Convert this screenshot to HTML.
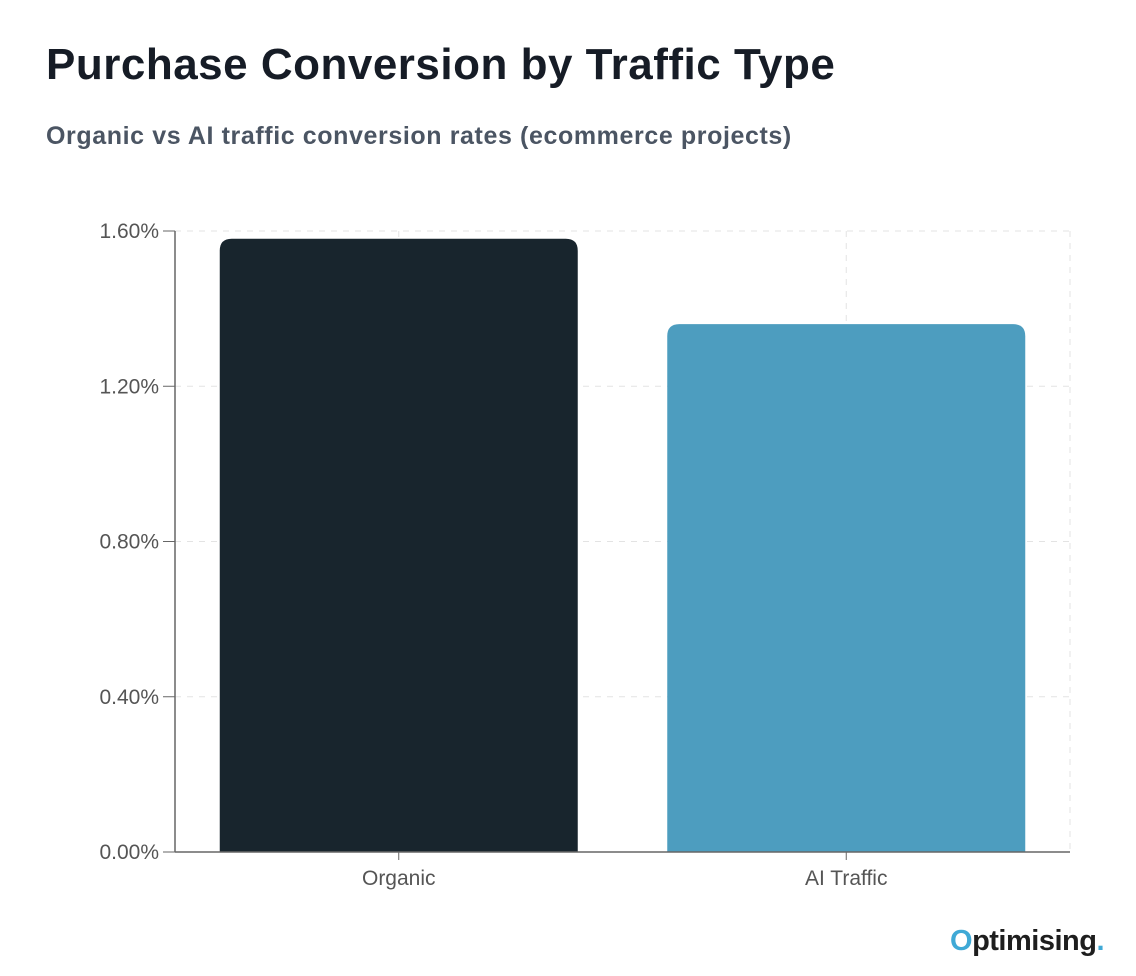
<!DOCTYPE html>
<html><head><meta charset="utf-8"><style>
body{margin:0;background:#fff;width:1136px;height:976px;overflow:hidden;font-family:"Liberation Sans",sans-serif}
h1{position:absolute;left:46px;top:40px;margin:0;font-size:44px;font-weight:bold;color:#161c26;letter-spacing:0.5px}
h2{position:absolute;left:46px;top:122px;margin:0;font-size:25px;font-weight:bold;color:#4b5563;letter-spacing:0.6px}
svg{position:absolute;left:0;top:0}
</style></head><body>
<h1>Purchase Conversion by Traffic Type</h1>
<h2>Organic vs AI traffic conversion rates (ecommerce projects)</h2>
<svg id="c" width="1136" height="976"></svg>
<div style="position:absolute;left:950px;top:925px;font-size:29px;font-weight:bold;color:#1e1e1e;letter-spacing:-0.5px"><span style="color:#3fa9d6">O</span>ptimising<span style="color:#3fa9d6">.</span></div>
<script>
const categories=["Organic","AI Traffic"];
const values=[1.58,1.36];
const tickValues=[0,0.4,0.8,1.2,1.6];
const tickLabels=["0.00%","0.40%","0.80%","1.20%","1.60%"];
const colors=["#18252d","#4d9dbf"];
const NS="http://www.w3.org/2000/svg";
const svg=document.getElementById('c');
const x0=175,x1=1070,y0=852,y1=231,maxV=1.6;
const y=v=>y0-(v/maxV)*(y0-y1);
const band=(x1-x0)/categories.length;
const xc=i=>x0+band*(i+0.5);
function mk(t,a){const e=document.createElementNS(NS,t);for(const k in a)e.setAttribute(k,a[k]);svg.appendChild(e);return e;}
tickValues.forEach((v,i)=>{
 const g=mk('line',{x1:x0,x2:x1,y1:y(v),y2:y(v),stroke:'#e3e3e3','stroke-dasharray':'6 6'});
 
 
 const tk=mk('line',{x1:x0-12,x2:x0,y1:y(v),y2:y(v),stroke:'#666'});
 
 
 const t=mk('text',{x:x0-16,y:y(v)+7,'text-anchor':'end','font-size':21,fill:'#555','font-family':'Liberation Sans, sans-serif'});
 t.textContent=tickLabels[i];
 
 
});
categories.forEach((c,i)=>{
 const g=mk('line',{x1:xc(i),x2:xc(i),y1:y1,y2:y0,stroke:'#e3e3e3','stroke-dasharray':'6 6'});
 
 
});
const gr=mk('line',{x1:x1,x2:x1,y1:y1,y2:y0,stroke:'#e3e3e3','stroke-dasharray':'6 6'});


categories.forEach((c,i)=>{
 const w=band*0.8,bx=xc(i)-w/2,by=y(values[i]),h=y0-by,r=12;
 const p=mk('path',{d:`M${bx},${y0}V${by+r}Q${bx},${by} ${bx+r},${by}H${bx+w-r}Q${bx+w},${by} ${bx+w},${by+r}V${y0}Z`,fill:colors[i]});
 
 
 const tk=mk('line',{x1:xc(i),x2:xc(i),y1:y0,y2:y0+8,stroke:'#666'});
 
 
 const t=mk('text',{x:xc(i),y:y0+33,'text-anchor':'middle','font-size':21,fill:'#555','font-family':'Liberation Sans, sans-serif'});
 t.textContent=c;
 
 
});
const ya=mk('line',{x1:x0,x2:x0,y1:y1,y2:y0,stroke:'#666','stroke-width':1.5});


const xa=mk('line',{x1:x0,x2:x1,y1:y0,y2:y0,stroke:'#666','stroke-width':1.5});


</script>
</body></html>
